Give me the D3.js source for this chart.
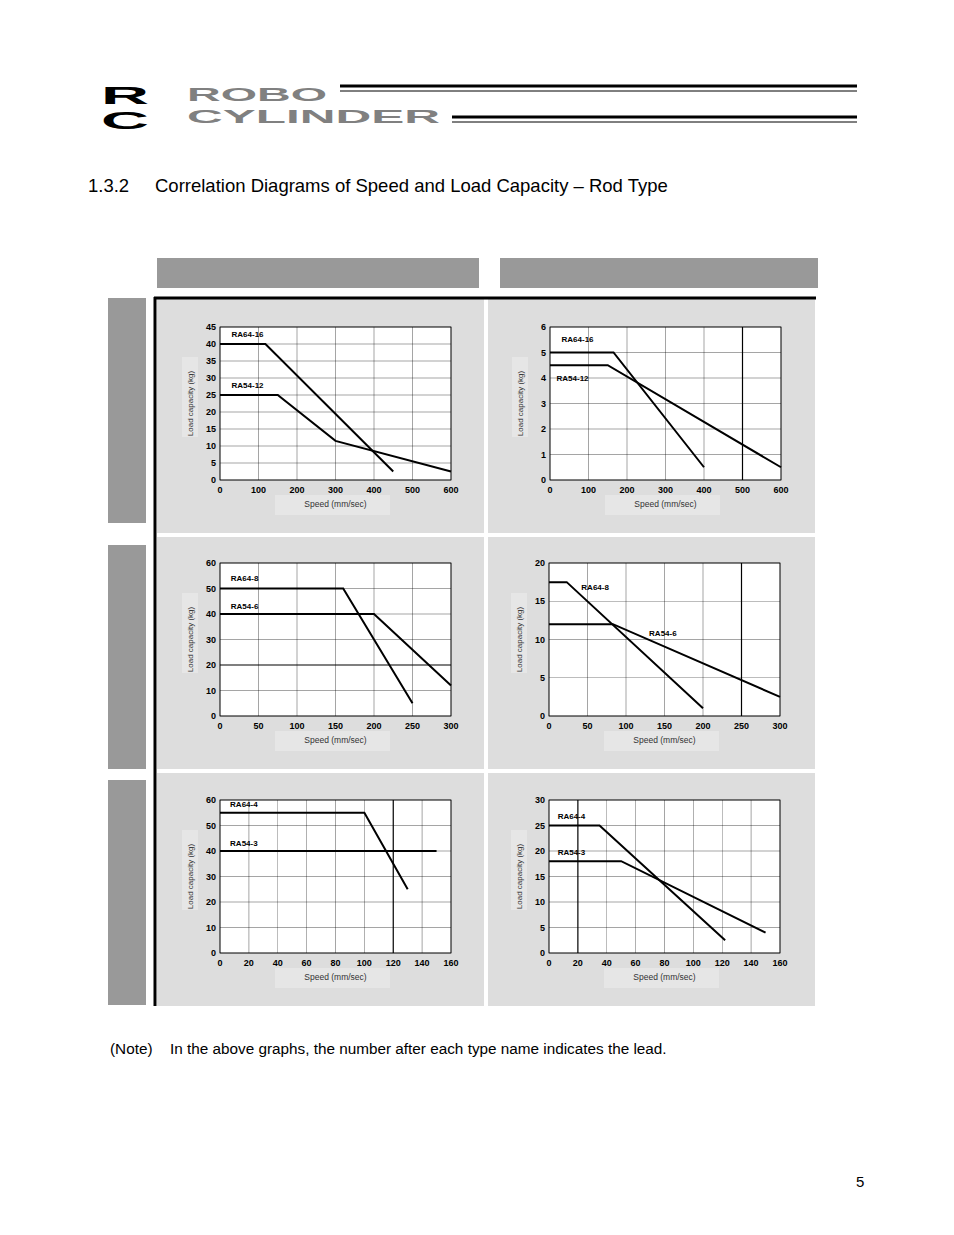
<!DOCTYPE html>
<html>
<head>
<meta charset="utf-8">
<style>
  body { margin:0; background:#fff; font-family: "Liberation Sans", Arial, sans-serif; }
  svg text { font-family: "Liberation Sans", Arial, sans-serif; }
</style>
<script src="https://d3js.org/d3.v7.min.js"></script>
</head>
<body>
<svg id="page" width="954" height="1235"></svg>
<script>
// chart data: [speed, load] vertices per series
var c1_a = [[0,40],[118,40],[450,2.5]];
var c1_b = [[0,25],[150,25],[300,11.5],[600,2.5]];
var c2_a = [[0,5],[165,5],[400,0.5]];
var c2_b = [[0,4.5],[150,4.5],[600,0.5]];
var c3_a = [[0,50],[160,50],[250,5]];
var c3_b = [[0,40],[200,40],[300,12]];
var c4_a = [[0,17.5],[23,17.5],[200,1]];
var c4_b = [[0,12],[83,12],[300,2.5]];
var c5_a = [[0,55],[100,55],[130,25]];
var c5_b = [[0,40],[150,40]];
var c6_a = [[0,25],[35,25],[122,2.5]];
var c6_b = [[0,18],[50,18],[150,4]];

var labels1 = ["RA64-16","RA54-12"];
var labels3 = ["RA64-8","RA54-6"];
var labels5 = ["RA64-4","RA54-3"];

var xTicks600 = [0,100,200,300,400,500,600];
var xTicks300 = [0,50,100,150,200,250,300];
var xTicks160 = [0,20,40,60,80,100,120,140,160];

var charts = [
  {x0:220,y0:327,xmax:600,ymax:45,xt:xTicks600,yt:d3.range(0,46,5),s:[c1_a,c1_b],lab:labels1,lp:[[30,42],[30,27]],dx:null,dy:null},
  {x0:550,y0:327,xmax:600,ymax:6,xt:xTicks600,yt:d3.range(0,7,1),s:[c2_a,c2_b],lab:labels1,lp:[[30,5.4],[17,3.9]],dx:500,dy:null},
  {x0:220,y0:563,xmax:300,ymax:60,xt:xTicks300,yt:d3.range(0,61,10),s:[c3_a,c3_b],lab:labels3,lp:[[14,53],[14,42]],dx:null,dy:20},
  {x0:549,y0:563,xmax:300,ymax:20,xt:xTicks300,yt:d3.range(0,21,5),s:[c4_a,c4_b],lab:labels3,lp:[[42,16.5],[130,10.5]],dx:250,dy:null},
  {x0:220,y0:800,xmax:160,ymax:60,xt:xTicks160,yt:d3.range(0,61,10),s:[c5_a,c5_b],lab:labels5,lp:[[7,57.3],[7,42]],dx:120,dy:null},
  {x0:549,y0:800,xmax:160,ymax:30,xt:xTicks160,yt:d3.range(0,31,5),s:[c6_a,c6_b],lab:labels5,lp:[[6,26.3],[6,19.2]],dx:20,dy:null}
];

var svg = d3.select("#page");

// header logo
function logoText(x, y, w, fs, txt, fill){
  svg.append("text").attr("x",x).attr("y",y).attr("font-size",fs).attr("font-weight","bold")
    .attr("font-family","DejaVu Sans").attr("fill",fill)
    .attr("textLength",w).attr("lengthAdjust","spacingAndGlyphs").text(txt);
}
logoText(101,104,48,24,"R","#000");
logoText(101,129,48,24,"C","#000");
logoText(187,101,140,19,"ROBO","#808080");
logoText(187,123,253,19,"CYLINDER","#808080");
[[340,86,3],[340,91,1],[452,117,3],[452,122,1]].forEach(function(l){
  svg.append("line").attr("x1",l[0]).attr("x2",857).attr("y1",l[1]).attr("y2",l[1])
    .attr("stroke","#000").attr("stroke-width",l[2]);
});

svg.append("text").attr("x",88).attr("y",192).attr("font-size",18.5).text("1.3.2");
svg.append("text").attr("x",155).attr("y",192).attr("font-size",18.5)
  .text("Correlation Diagrams of Speed and Load Capacity \u2013 Rod Type");

// frame
svg.append("rect").attr("x",157).attr("y",258).attr("width",322).attr("height",30).attr("fill","#999");
svg.append("rect").attr("x",500).attr("y",258).attr("width",318).attr("height",30).attr("fill","#999");
[[298,225],[545,224],[780,225]].forEach(function(b){
  svg.append("rect").attr("x",108).attr("y",b[0]).attr("width",38).attr("height",b[1]).attr("fill","#999");
});
[[299,234],[537,232],[773,233]].forEach(function(r){
  svg.append("rect").attr("x",157).attr("y",r[0]).attr("width",327).attr("height",r[1]).attr("fill","#ddd");
  svg.append("rect").attr("x",488).attr("y",r[0]).attr("width",327).attr("height",r[1]).attr("fill","#ddd");
});
svg.append("line").attr("x1",155).attr("x2",155).attr("y1",297).attr("y2",1006).attr("stroke","#000").attr("stroke-width",3);
svg.append("line").attr("x1",154).attr("x2",816).attr("y1",298).attr("y2",298).attr("stroke","#000").attr("stroke-width",3);

var W = 231, H = 153;
charts.forEach(function(c){
  var g = svg.append("g");
  var x = d3.scaleLinear().domain([0,c.xmax]).range([c.x0,c.x0+W]);
  var y = d3.scaleLinear().domain([0,c.ymax]).range([c.y0+H,c.y0]);
  // label boxes
  g.append("rect").attr("x",c.x0-38).attr("y",c.y0+30).attr("width",16).attr("height",80).attr("fill","#e6e6e6");
  g.append("rect").attr("x",c.x0+55).attr("y",c.y0+H+15).attr("width",115).attr("height",20).attr("fill","#e6e6e6");
  g.append("rect").attr("x",c.x0).attr("y",c.y0).attr("width",W).attr("height",H).attr("fill","#fff");
  c.xt.forEach(function(t){
    g.append("line").attr("x1",x(t)).attr("x2",x(t)).attr("y1",c.y0).attr("y2",c.y0+H)
      .attr("stroke","#000").attr("stroke-width",t===c.dx?1.2:0.5).attr("opacity",t===c.dx?1:0.7);
    g.append("text").attr("x",x(t)).attr("y",c.y0+H+13).attr("text-anchor","middle")
      .attr("font-size",9).attr("font-weight","bold").text(t);
  });
  c.yt.forEach(function(t){
    g.append("line").attr("x1",c.x0).attr("x2",c.x0+W).attr("y1",y(t)).attr("y2",y(t))
      .attr("stroke","#000").attr("stroke-width",t===c.dy?1.2:0.5).attr("opacity",t===c.dy?1:0.7);
    g.append("text").attr("x",c.x0-4).attr("y",y(t)+3).attr("text-anchor","end")
      .attr("font-size",9).attr("font-weight","bold").text(t);
  });
  g.append("rect").attr("x",c.x0).attr("y",c.y0).attr("width",W).attr("height",H)
    .attr("fill","none").attr("stroke","#000").attr("stroke-width",0.8);
  var line = d3.line().x(function(d){return x(d[0]);}).y(function(d){return y(d[1]);});
  c.s.forEach(function(s){
    g.append("path").attr("d",line(s)).attr("fill","none").attr("stroke","#000").attr("stroke-width",2);
  });
  c.lab.forEach(function(l,i){
    g.append("text").attr("x",x(c.lp[i][0])).attr("y",y(c.lp[i][1])).attr("font-size",8)
      .attr("font-weight","bold").text(l);
  });
  g.append("text").attr("transform","translate("+(c.x0-27)+","+(c.y0+H/2)+") rotate(-90)")
    .attr("text-anchor","middle").attr("font-size",8).attr("fill","#333").text("Load capacity (kg)");
  g.append("text").attr("x",c.x0+W/2).attr("y",c.y0+H+27).attr("text-anchor","middle")
    .attr("font-size",8.5).attr("fill","#333").text("Speed (mm/sec)");
});

svg.append("text").attr("x",110).attr("y",1054).attr("font-size",15.3).text("(Note)");
svg.append("text").attr("x",170).attr("y",1054).attr("font-size",15.3)
  .text("In the above graphs, the number after each type name indicates the lead.");
svg.append("text").attr("x",856).attr("y",1187).attr("font-size",15).text("5");
</script>
</body>
</html>
